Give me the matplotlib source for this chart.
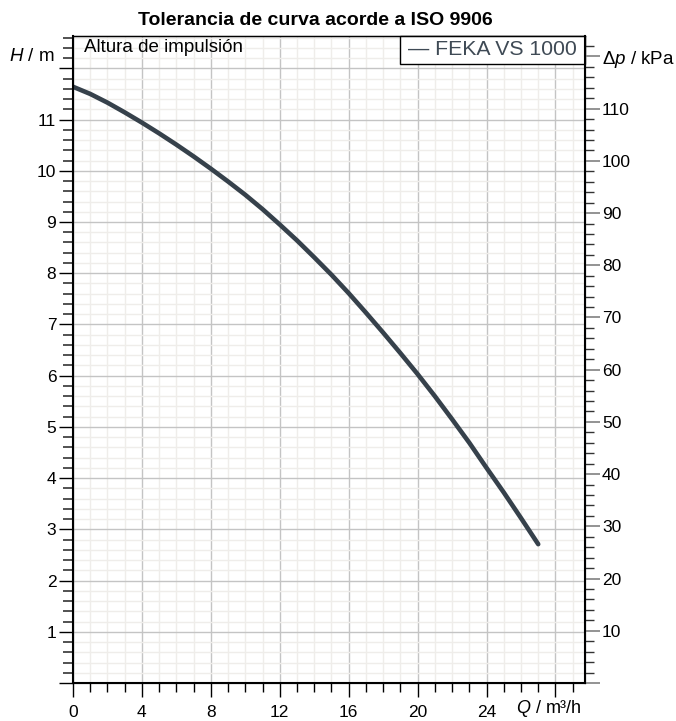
import matplotlib
matplotlib.use("Agg")
from matplotlib import pyplot as plt
from matplotlib.patches import Rectangle
from matplotlib.ticker import MultipleLocator, FixedLocator

plt.rcParams['font.family'] = ['Liberation Sans', 'DejaVu Sans']
plt.rcParams['mathtext.fontset'] = 'custom'
plt.rcParams['mathtext.rm'] = 'Liberation Sans'
plt.rcParams['mathtext.it'] = 'Liberation Sans:italic'

# curve (Q in m3/h, H in m)
q_vals = list(range(0, 28))
h_vals = [11.64, 11.50, 11.33, 11.14, 10.94, 10.73, 10.51, 10.28, 10.04, 9.79,
          9.53, 9.25, 8.95, 8.64, 8.31, 7.97, 7.61, 7.23, 6.84, 6.44,
          6.03, 5.60, 5.15, 4.69, 4.20, 3.72, 3.22, 2.71]
series_name = "FEKA VS 1000"

x_ticks = [0, 4, 8, 12, 16, 20, 24, 28]
x_labels = ["0", "4", "8", "12", "16", "20", "24", ""]
h_ticks = list(range(0, 13))
h_labels = [""] + [str(v) for v in range(1, 12)] + [""]
p_ticks = list(range(0, 130, 10))
p_labels = [""] + [str(v) for v in range(10, 120, 10)] + [""]

rho_g = 9.81  # kPa per m of water
x_max = 29.7
h_max = 12.63

curve_color = "#36414b"
tick_fs = 12.5
label_fs = 13.5

fig = plt.figure(figsize=(6.76, 7.21), dpi=100)
ax = fig.add_axes([0.108, 0.0527, 0.757, 0.8973])

ax.set_xlim(0, x_max)
ax.set_ylim(0, h_max)

# grid
ax.xaxis.set_major_locator(FixedLocator(x_ticks))
ax.xaxis.set_minor_locator(MultipleLocator(1))
ax.yaxis.set_major_locator(FixedLocator(h_ticks))
ax.yaxis.set_minor_locator(MultipleLocator(0.2))
ax.grid(which='minor', color='#efedea', linewidth=1.0, zorder=0)
ax.grid(which='major', color='#c4c4c4', linewidth=1.0, zorder=0)
ax.set_axisbelow(True)

ax.plot(q_vals, h_vals, color=curve_color, linewidth=3.3, solid_capstyle='round',
        solid_joinstyle='round', zorder=3)

ax.set_xticklabels(x_labels, fontsize=tick_fs)
ax.set_yticklabels(h_labels, fontsize=tick_fs)
ax.tick_params(axis='x', which='major', direction='out', length=10, width=1, pad=6)
ax.tick_params(axis='x', which='minor', direction='out', length=6.5, width=1)
ax.tick_params(axis='y', which='major', direction='out', length=10, width=1, pad=2)
ax.tick_params(axis='y', which='minor', direction='out', length=7, width=1.2, color='#333333')
for s in ['left', 'bottom']:
    ax.spines[s].set_linewidth(1.5)
ax.spines['top'].set_linewidth(1.0)

# pressure axis on the right
ax2 = ax.twinx()
ax2.set_ylim(0, h_max * rho_g)
ax2.yaxis.set_major_locator(FixedLocator(p_ticks))
ax2.yaxis.set_minor_locator(MultipleLocator(2))
ax2.set_yticklabels(p_labels, fontsize=tick_fs)
ax2.tick_params(axis='y', which='major', direction='out', length=10.5, width=1.3, color='#8a8a8a', pad=2)
ax2.tick_params(axis='y', which='minor', direction='out', length=6.5, width=1, color='#333333')
ax2.spines['right'].set_linewidth(1.5)

# legend box
ax.add_patch(Rectangle((0.639, 0.957), 0.361, 0.043, transform=ax.transAxes,
                       facecolor='white', edgecolor='black', linewidth=1.0, zorder=5, clip_on=False))
ax.text(0.8195, 0.9785, "\u2014 " + series_name, transform=ax.transAxes, ha='center', va='center',
        fontsize=15.3, color='#3f4a55', zorder=6)

ax.text(0.022, 0.982, "Altura de impulsi\u00f3n", transform=ax.transAxes, ha='left', va='center',
        fontsize=label_fs, zorder=6)

fig.text(0.081, 0.921, "$H$ / m", ha='right', va='center', fontsize=label_fs)
fig.text(0.891, 0.917, "\u0394$p$ / kPa", ha='left', va='center', fontsize=label_fs)
fig.text(0.812, 0.017, "$Q$ / m\u00b3/h", ha='center', va='center', fontsize=13)
fig.text(0.466, 0.972, "Tolerancia de curva acorde a ISO 9906", ha='center', va='center',
         fontsize=14, fontweight='bold')

plt.savefig("out.png", dpi=100)
plt.close()
